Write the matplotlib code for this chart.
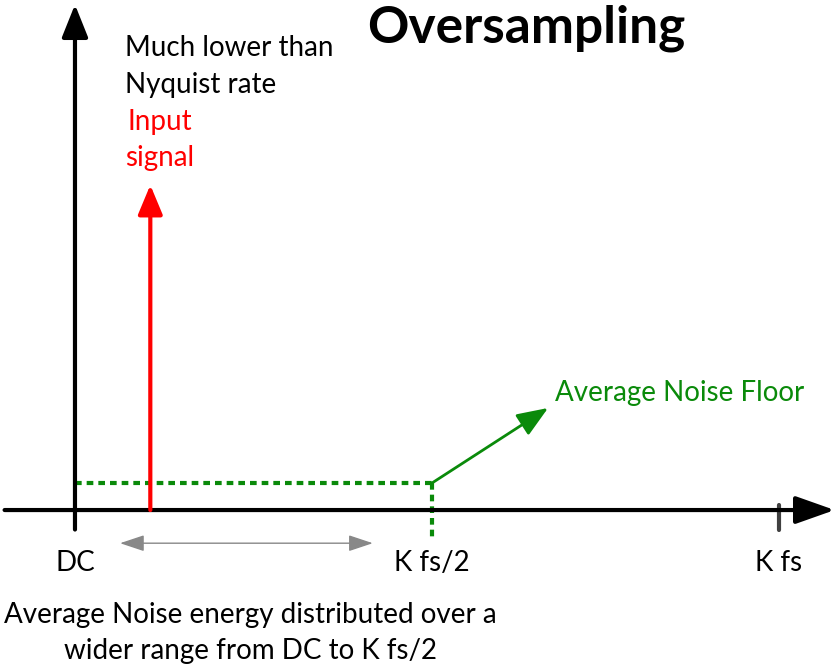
import matplotlib.pyplot as plt

plt.rcParams['font.family'] = ['Lato', 'DejaVu Sans']

# Frequenzachse: DC = 0, K fs = 1 ; Amplitude: Eingangssignal = 1
freq_ticks = [0.0, 0.507, 1.0]
freq_labels = ["DC", "K fs/2", "K fs"]
signal_freq = 0.107
signal_amp = 1.0
noise_floor = 0.083
noise_edge = 0.507
band_arrow = [0.064, 0.423]

GREEN = "#0a8a0a"

fig = plt.figure(figsize=(8.35, 6.69), dpi=100)
ax = fig.add_axes([0, 0, 1, 1])
ax.set_xlim(-0.1065, 1.0795)
ax.set_ylim(-0.489, 1.569)
ax.axis("off")

# Achsen
ax.annotate("", xy=(1.079, 0), xytext=(-0.1, 0),
            arrowprops=dict(arrowstyle="-|>,head_length=2.4,head_width=0.85",
                            color="black", lw=3, shrinkA=0, shrinkB=0))
ax.annotate("", xy=(0, 1.555), xytext=(0, -0.06),
            arrowprops=dict(arrowstyle="-|>,head_length=2.0,head_width=0.8",
                            color="black", lw=3, shrinkA=0, shrinkB=0))
ax.plot([1.0, 1.0], [0.015, -0.062], color="#404040", lw=3, solid_capstyle="round")

# Eingangssignal
ax.annotate("", xy=(signal_freq, signal_amp), xytext=(signal_freq, 0),
            arrowprops=dict(arrowstyle="-|>,head_length=1.8,head_width=0.75",
                            color="red", lw=3, shrinkA=0, shrinkB=0))

# Rauschboden
ax.plot([0, noise_edge], [noise_floor, noise_floor], color=GREEN, lw=3,
        linestyle=(0, (1.6, 1.2)))
ax.plot([noise_edge, noise_edge], [noise_floor, -0.085], color=GREEN, lw=3,
        linestyle=(0, (1.6, 1.2)))
ax.annotate("", xy=(0.672, 0.314), xytext=(noise_edge, noise_floor),
            arrowprops=dict(arrowstyle="-|>,head_length=1.9,head_width=0.75",
                            color=GREEN, lw=2, shrinkA=0, shrinkB=0))

# Bandbreite
ax.annotate("", xy=(band_arrow[1], -0.102), xytext=(band_arrow[0], -0.102),
            arrowprops=dict(arrowstyle="<|-|>,head_length=1.5,head_width=0.5",
                            color="#888888", lw=1, shrinkA=0, shrinkB=0))

# Texte
ax.text(0.415, 1.483, "Oversampling", fontsize=37, fontweight="bold",
        ha="left", va="center")
ax.text(0.071, 1.422, "Much lower than", fontsize=20, ha="left", va="center")
ax.text(0.071, 1.307, "Nyquist rate", fontsize=20, ha="left", va="center")
ax.text(0.074, 1.193, "Input", fontsize=20, color="red", ha="left", va="center")
ax.text(0.071, 1.082, "signal", fontsize=20, color="red", ha="left", va="center")
ax.text(0.682, 0.36, "Average Noise Floor", fontsize=20, color=GREEN,
        ha="left", va="center")
for f, lab in zip(freq_ticks, freq_labels):
    ax.text(f, -0.163, lab, fontsize=20, ha="center", va="center")
ax.text(0.249, -0.322, "Average Noise energy distributed over a", fontsize=20,
        ha="center", va="center")
ax.text(0.249, -0.433, "wider range from DC to K fs/2", fontsize=20,
        ha="center", va="center")

fig.savefig("out.png", dpi=100)
